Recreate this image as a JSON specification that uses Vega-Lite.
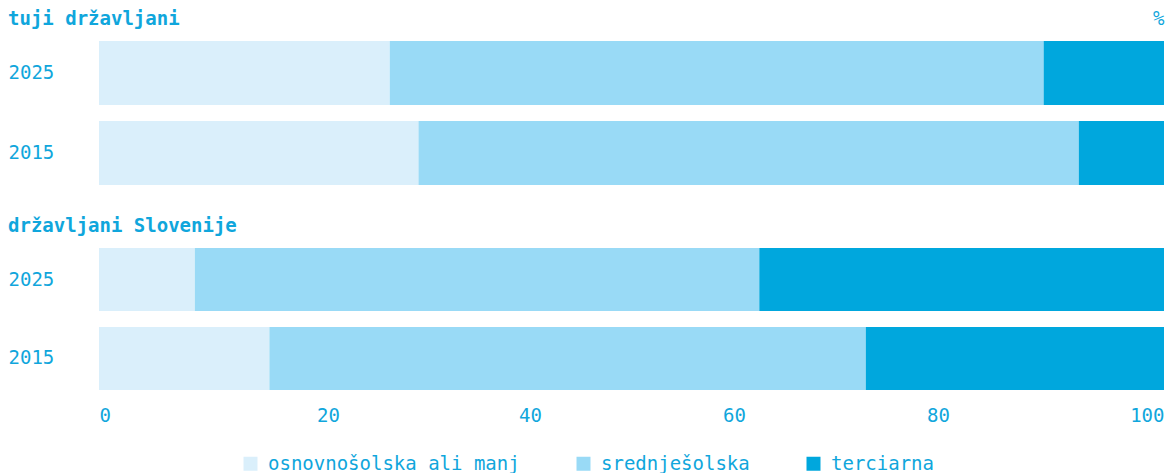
{
  "$schema": "https://vega.github.io/schema/vega-lite/v6.json",
  "padding": {"left": 8, "right": 3, "top": 9, "bottom": 0},
  "background": "white",
  "data": {"values": [
    {"group": "tuji", "year": "2025", "category": "osnovnošolska ali manj", "order": 1, "value": 27.3},
    {"group": "tuji", "year": "2025", "category": "srednješolska", "order": 2, "value": 61.4},
    {"group": "tuji", "year": "2025", "category": "terciarna", "order": 3, "value": 11.3},
    {"group": "tuji", "year": "2015", "category": "osnovnošolska ali manj", "order": 1, "value": 30.0},
    {"group": "tuji", "year": "2015", "category": "srednješolska", "order": 2, "value": 62.0},
    {"group": "tuji", "year": "2015", "category": "terciarna", "order": 3, "value": 8.0},
    {"group": "slo", "year": "2025", "category": "osnovnošolska ali manj", "order": 1, "value": 9.0},
    {"group": "slo", "year": "2025", "category": "srednješolska", "order": 2, "value": 53.0},
    {"group": "slo", "year": "2025", "category": "terciarna", "order": 3, "value": 38.0},
    {"group": "slo", "year": "2015", "category": "osnovnošolska ali manj", "order": 1, "value": 16.0},
    {"group": "slo", "year": "2015", "category": "srednješolska", "order": 2, "value": 56.0},
    {"group": "slo", "year": "2015", "category": "terciarna", "order": 3, "value": 28.0}
  ]},
  "config": {
    "font": "DejaVu Sans Mono",
    "view": {"stroke": null},
    "concat": {"spacing": 32},
    "axis": {"labelColor": "#10a6dc", "titleColor": "#10a6dc", "labelFontSize": 19, "titleFontSize": 19, "titleFontWeight": "normal", "grid": false, "ticks": false, "domain": false},
    "title": {"color": "#10a6dc", "fontSize": 19, "fontWeight": "bold", "anchor": "start", "frame": "bounds"},
    "legend": {"labelColor": "#10a6dc", "labelFontSize": 19, "labelLimit": 0, "symbolType": "square", "symbolSize": 196, "symbolStrokeWidth": 0, "labelOffset": 8, "columnPadding": 54, "orient": "none", "legendX": 142, "legendY": 413, "direction": "horizontal", "title": null}
  },
  "vconcat": [
    {
      "title": {"text": "tuji državljani", "offset": -20},
      "width": 1065,
      "height": 144,
      "transform": [{"filter": "datum.group === 'tuji'"}],
      "mark": {"type": "bar"},
      "encoding": {
        "y": {"field": "year", "type": "nominal", "sort": ["2025", "2015"], "scale": {"paddingInner": 0.2, "paddingOuter": 0}, "axis": {"title": null, "labelAlign": "left", "labelPadding": 91}},
        "x": {"field": "value", "type": "quantitative", "stack": "zero", "scale": {"domain": [0, 100]}, "axis": {"orient": "top", "labels": false, "title": "%", "titleAnchor": "end", "titleAlign": "right", "titlePadding": 13}},
        "color": {"field": "category", "type": "nominal", "sort": ["osnovnošolska ali manj", "srednješolska", "terciarna"], "scale": {"domain": ["osnovnošolska ali manj", "srednješolska", "terciarna"], "range": ["#daeffb", "#99daf6", "#00a7dd"]}},
        "order": {"field": "order", "type": "quantitative"}
      }
    },
    {
      "title": {"text": "državljani Slovenije", "offset": 12},
      "width": 1065,
      "height": 142,
      "transform": [{"filter": "datum.group === 'slo'"}],
      "mark": {"type": "bar"},
      "encoding": {
        "y": {"field": "year", "type": "nominal", "sort": ["2025", "2015"], "scale": {"paddingInner": 0.2, "paddingOuter": 0}, "axis": {"title": null, "labelAlign": "left", "labelPadding": 91}},
        "x": {"field": "value", "type": "quantitative", "stack": "zero", "scale": {"domain": [0, 100]}, "axis": {"title": null, "values": [0, 20, 40, 60, 80, 100], "labelFlush": true, "labelPadding": 16, "labelOffset": {"expr": "datum.value == 20 ? 16 : datum.value == 40 ? 5 : datum.value == 60 ? -4 : datum.value == 80 ? -13 : 0"}}},
        "color": {"field": "category", "type": "nominal", "sort": ["osnovnošolska ali manj", "srednješolska", "terciarna"], "scale": {"domain": ["osnovnošolska ali manj", "srednješolska", "terciarna"], "range": ["#daeffb", "#99daf6", "#00a7dd"]}},
        "order": {"field": "order", "type": "quantitative"}
      }
    }
  ]
}
